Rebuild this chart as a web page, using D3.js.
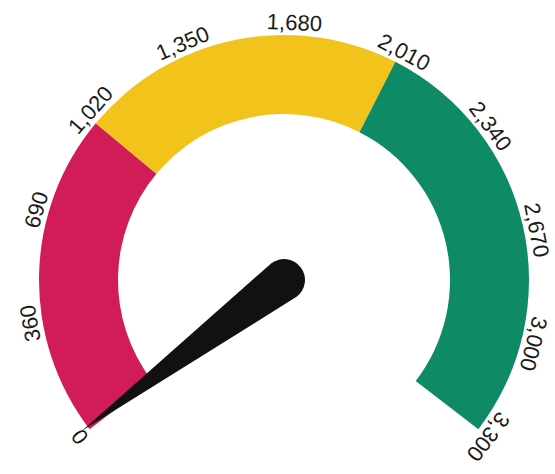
<!DOCTYPE html>
<html>
<head>
<meta charset="utf-8">
<script src="https://cdn.jsdelivr.net/npm/d3@7"></script>
<style>
  html, body { margin: 0; padding: 0; background: #fff; }
  svg { display: block; }
</style>
</head>
<body>
<div id="chart"></div>
<script>
// gauge data
const minValue = 0;
const maxValue = 3300;
const bandStarts = [0, 1000, 2000];
const bandEnds = [1000, 2000, 3300];
const tickValues = [0, 360, 690, 1020, 1350, 1680, 2010, 2340, 2670, 3000, 3300];
const needleValue = 10;

const BAND_COLORS = ['#d11c58', '#f1c31b', '#0f8a67'];

const width = 555, height = 474;
const cx = 284, cy = 280;
const outerR = 245, innerR = 166;
const sweep = 127.5 * Math.PI / 180;

const svg = d3.select('#chart')
  .append('svg')
  .attr('width', width)
  .attr('height', height);

const g = svg.append('g').attr('transform', `translate(${cx},${cy})`);

const angle = d3.scaleLinear()
  .domain([minValue, maxValue])
  .range([-sweep, sweep]);

const arc = d3.arc()
  .innerRadius(innerR)
  .outerRadius(outerR);

// colour bands
g.append('g')
  .selectAll('path')
  .data(bandStarts.map((s, i) => ({ start: s, end: bandEnds[i], color: BAND_COLORS[i] })))
  .join('path')
  .attr('d', d => arc({ startAngle: angle(d.start), endAngle: angle(d.end) }))
  .attr('fill', d => d.color);

// tick labels, rotated along the ring
const fmt = d3.format(',');
g.append('g')
  .selectAll('text')
  .data(tickValues)
  .join('text')
  .attr('transform', d => `rotate(${angle(d) * 180 / Math.PI}) translate(0,${-(outerR + 5)})`)
  .attr('text-anchor', 'middle')
  .attr('font-family', '"Liberation Sans", Arial, sans-serif')
  .attr('font-size', 22)
  .attr('fill', '#1a1a1a')
  .text(d => fmt(d));

// needle
const knobR = 21, needleLen = 252;
g.append('path')
  .attr('d', `M${-knobR},0 L0,${-needleLen} L${knobR},0 A${knobR},${knobR} 0 0 1 ${-knobR},0 Z`)
  .attr('transform', `rotate(${angle(needleValue) * 180 / Math.PI})`)
  .attr('fill', '#111');
</script>
</body>
</html>
